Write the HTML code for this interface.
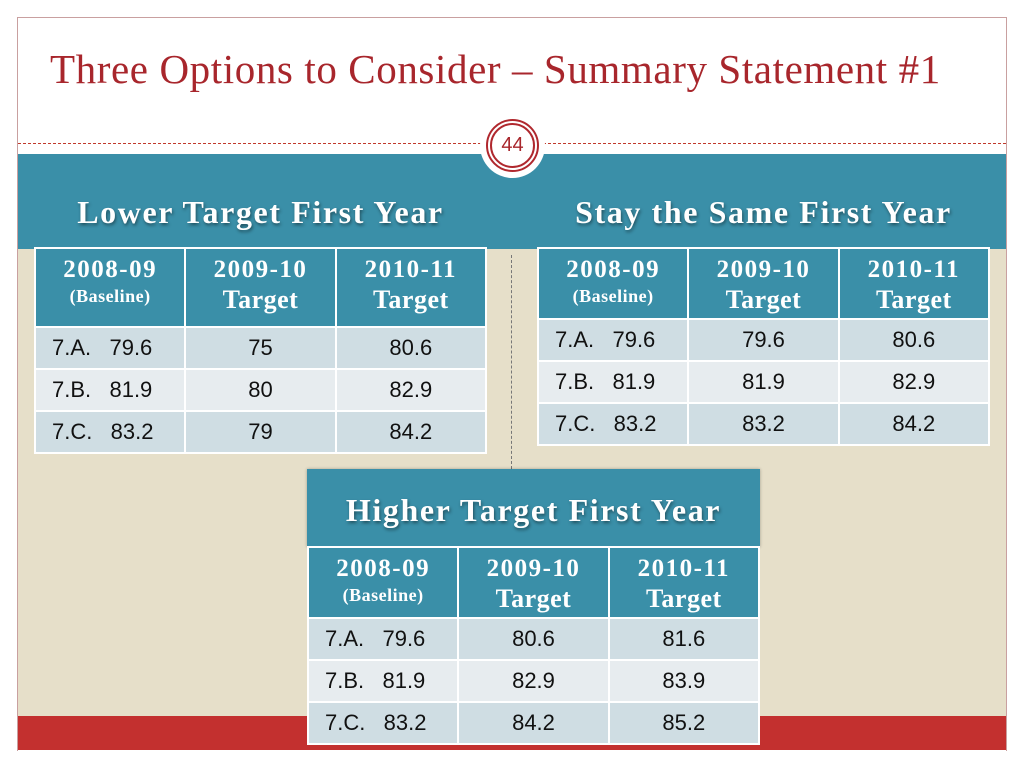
<!DOCTYPE html>
<html><head><meta charset="utf-8"><style>
*{margin:0;padding:0;box-sizing:border-box}
body{width:1024px;height:768px;background:#fff;position:relative;overflow:hidden;font-family:"Liberation Sans",sans-serif}
.abs{position:absolute}
.tbl{position:absolute;border-collapse:collapse;table-layout:fixed}
.tbl td{border:2px solid #fff;text-align:center;color:#111;font-size:22px}
.tbl th{border:2px solid #fff;background:#3a8fa8;color:#fff;font-family:"Liberation Serif",serif;font-weight:bold;vertical-align:top;line-height:30px;font-size:25px;letter-spacing:1.5px;padding-top:6px}
.tbl th small{display:block;font-size:18px;line-height:22px;letter-spacing:0.5px}
.tbl th span.t{display:block;font-size:26px;line-height:30px;letter-spacing:0.5px}
.tbl tr.o td{background:#cfdde3}
.tbl tr.e td{background:#e7ecef}
.tbl td.f{text-align:left;padding-left:16px}
.h{position:absolute;color:#fff;font-family:"Liberation Serif",serif;font-weight:bold;font-size:32px;letter-spacing:1.6px;text-shadow:1px 2px 3px rgba(0,0,0,.45);text-align:center;white-space:nowrap}
</style></head><body>
<div class="abs" style="left:17px;top:17px;width:990px;height:734px;border:1px solid #c9a0a0;border-bottom:none"></div>
<div class="abs" style="left:50px;top:45px;font-family:'Liberation Serif',serif;font-size:41px;letter-spacing:0.6px;color:#a8262c;white-space:nowrap">Three Options to Consider – Summary Statement #1</div>
<div class="abs" style="left:18px;top:143px;width:988px;border-top:1px dashed #c0392b"></div>
<div class="abs" style="left:18px;top:154px;width:988px;height:95px;background:#3a8fa8"></div>
<div class="abs" style="left:18px;top:249px;width:988px;height:467px;background:#e6dfc9"></div>
<div class="abs" style="left:18px;top:716px;width:988px;height:34px;background:#c3302f"></div>
<div class="abs" style="left:480px;top:113px;width:65px;height:65px;border-radius:50%;background:#fff"></div>
<div class="abs" style="left:486px;top:119px;width:53px;height:53px;border-radius:50%;border:2px solid #b0282e;"></div>
<div class="abs" style="left:490px;top:123px;width:45px;height:45px;border-radius:50%;border:2px solid #b0282e;color:#a8262c;font-size:20px;text-align:center;line-height:41px">44</div>
<div class="abs" style="left:511px;top:255px;height:214px;border-left:1px dashed #777"></div>

<div class="h" style="left:34px;top:194px;width:453px">Lower Target First Year</div>
<table class="tbl" style="left:34px;top:247px;width:453px">
<tr style="height:79px"><th>2008-09<small>(Baseline)</small></th><th>2009-10<span class="t">Target</span></th><th>2010-11<span class="t">Target</span></th></tr>
<tr class="o" style="height:42px"><td class="f">7.A.&nbsp;&nbsp; 79.6</td><td>75</td><td>80.6</td></tr>
<tr class="e" style="height:42px"><td class="f">7.B.&nbsp;&nbsp; 81.9</td><td>80</td><td>82.9</td></tr>
<tr class="o" style="height:42px"><td class="f">7.C.&nbsp;&nbsp; 83.2</td><td>79</td><td>84.2</td></tr>
</table>

<div class="h" style="left:537px;top:194px;width:453px">Stay the Same First Year</div>
<table class="tbl" style="left:537px;top:247px;width:453px">
<tr style="height:71px"><th>2008-09<small>(Baseline)</small></th><th>2009-10<span class="t">Target</span></th><th>2010-11<span class="t">Target</span></th></tr>
<tr class="o" style="height:42px"><td class="f">7.A.&nbsp;&nbsp; 79.6</td><td>79.6</td><td>80.6</td></tr>
<tr class="e" style="height:42px"><td class="f">7.B.&nbsp;&nbsp; 81.9</td><td>81.9</td><td>82.9</td></tr>
<tr class="o" style="height:42px"><td class="f">7.C.&nbsp;&nbsp; 83.2</td><td>83.2</td><td>84.2</td></tr>
</table>

<div class="abs" style="left:307px;top:469px;width:453px;height:78px;background:#3a8fa8;box-shadow:0 0 3px rgba(0,0,0,.3)"></div>
<div class="h" style="left:307px;top:492px;width:453px">Higher Target First Year</div>
<table class="tbl" style="left:307px;top:546px;width:453px">
<tr style="height:71px"><th>2008-09<small>(Baseline)</small></th><th>2009-10<span class="t">Target</span></th><th>2010-11<span class="t">Target</span></th></tr>
<tr class="o" style="height:42px"><td class="f">7.A.&nbsp;&nbsp; 79.6</td><td>80.6</td><td>81.6</td></tr>
<tr class="e" style="height:42px"><td class="f">7.B.&nbsp;&nbsp; 81.9</td><td>82.9</td><td>83.9</td></tr>
<tr class="o" style="height:42px"><td class="f">7.C.&nbsp;&nbsp; 83.2</td><td>84.2</td><td>85.2</td></tr>
</table>
</body></html>
